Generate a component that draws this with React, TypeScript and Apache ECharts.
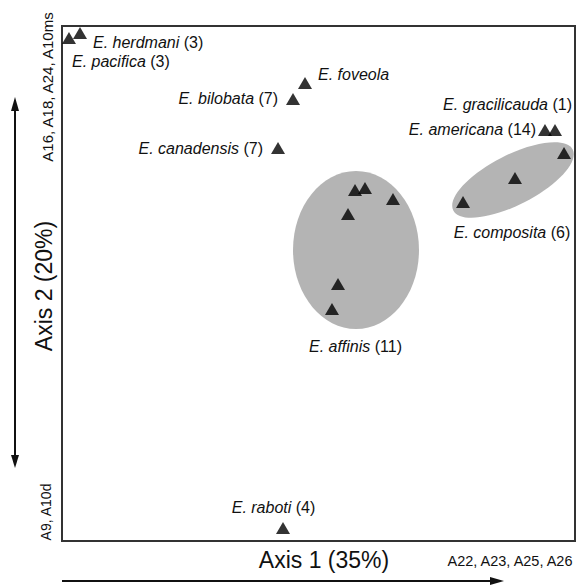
import React, { useEffect, useRef } from "react";
import * as echarts from "echarts";

// Triangle points (x: Axis 1, y: Axis 2, arbitrary 0-100 scale)
const pointNames = [
  "E. pacifica", "E. herdmani", "E. foveola", "E. bilobata", "E. canadensis",
  "E. americana", "E. gracilicauda",
  "E. composita", "E. composita", "E. composita",
  "E. affinis", "E. affinis", "E. affinis", "E. affinis", "E. affinis", "E. affinis",
  "E. raboti",
];
const pointX = [1.36, 3.51, 47.37, 45.03, 42.11, 94.15, 96.1, 78.17, 88.3, 97.86, 57.12, 59.06, 64.52, 55.75, 53.8, 52.63, 43.08];
const pointY = [97.67, 98.64, 88.93, 85.83, 76.31, 79.81, 79.81, 65.83, 70.49, 75.34, 68.16, 68.54, 66.41, 63.5, 49.9, 45.05, 2.52];

// Species labels
const labelSpecies = ["E. herdmani", "E. pacifica", "E. foveola", "E. bilobata", "E. canadensis", "E. gracilicauda", "E. americana", "E. composita", "E. affinis", "E. raboti"];
const labelCounts = ["(3)", "(3)", "", "(7)", "(7)", "(1)", "(14)", "(6)", "(11)", "(4)"];
const labelX = [6.04, 1.95, 49.9, 42.11, 39.18, 99.42, 92.4, 87.72, 57.21, 41.23];
const labelY = [96.89, 93.01, 90.49, 85.83, 76.31, 84.85, 80.0, 60.0, 37.67, 6.6];
const labelAlign = ["left", "left", "left", "right", "right", "right", "right", "center", "center", "center"];

// Group ellipses (center, semi-axes in axis units, rotation in degrees)
const ellipseGroups = ["E. affinis", "E. composita"];
const ellipseCx = [57.31, 87.91];
const ellipseCy = [56.5, 70.1];
const ellipseRx = [12.28, 13.06];
const ellipseRy = [15.34, 4.87];
const ellipseAngle = [0, 27];

// Axis annotations
const axis1Title = "Axis 1 (35%)";
const axis2Title = "Axis 2 (20%)";
const axis1Vars = "A22, A23, A25, A26";
const axis2TopVars = "A16, A18, A24, A10ms";
const axis2BottomVars = "A9, A10d";

const FONT = "'Liberation Sans', Arial, Helvetica, sans-serif";
const TXT = "#111";

export default function App() {
  const ref = useRef<HTMLDivElement>(null);
  useEffect(() => {
    if (!ref.current) return;
    const chart = echarts.init(ref.current, null, { renderer: "svg" });
    const option: any = {
      animation: false,
      backgroundColor: "#fff",
      grid: {
        left: 62, top: 26, width: 513, height: 515,
        show: true, borderColor: "#333", borderWidth: 2, backgroundColor: "transparent",
      },
      xAxis: { type: "value", min: 0, max: 100, show: false },
      yAxis: { type: "value", min: 0, max: 100, show: false },
      series: [
        {
          type: "custom",
          name: "groups",
          z: 1,
          data: ellipseGroups.map((g, i) => [ellipseCx[i], ellipseCy[i], ellipseRx[i], ellipseRy[i], ellipseAngle[i]]),
          renderItem: (params: any, api: any) => {
            const c = api.coord([api.value(0), api.value(1)]);
            const s = api.size([api.value(2), api.value(3)]);
            return {
              type: "ellipse",
              x: c[0], y: c[1],
              rotation: (api.value(4) * Math.PI) / 180,
              shape: { cx: 0, cy: 0, rx: s[0], ry: s[1] },
              style: { fill: "#b4b4b4" },
            };
          },
        },
        {
          type: "scatter",
          name: "specimens",
          z: 3,
          symbol: "triangle",
          symbolSize: [14, 12],
          itemStyle: { color: "#000" },
          data: pointX.map((x, i) => ({ name: pointNames[i], value: [x, pointY[i]] })),
        },
        {
          type: "custom",
          name: "labels",
          z: 4,
          data: labelX.map((x, i) => [x, labelY[i]]),
          renderItem: (params: any, api: any) => {
            const i = params.dataIndex;
            const c = api.coord([api.value(0), api.value(1)]);
            const cnt = labelCounts[i];
            return {
              type: "text",
              x: c[0], y: c[1],
              style: {
                text: cnt ? `{i|${labelSpecies[i]}} {n|${cnt}}` : `{i|${labelSpecies[i]}}`,
                align: labelAlign[i],
                verticalAlign: "middle",
                fill: TXT,
                fontSize: 16,
                fontFamily: FONT,
                rich: {
                  i: { fontStyle: "italic", fontSize: 16, fontFamily: FONT, fill: TXT },
                  n: { fontSize: 16, fontFamily: FONT, fill: TXT },
                },
              },
            };
          },
        },
      ],
      graphic: [
        // vertical double arrow
        { type: "line", shape: { x1: 15, y1: 104, x2: 15, y2: 462 }, style: { stroke: "#111", lineWidth: 2 } },
        { type: "polygon", shape: { points: [[15, 97], [11, 111], [19, 111]] }, style: { fill: "#111" } },
        { type: "polygon", shape: { points: [[15, 468], [11, 455], [19, 455]] }, style: { fill: "#111" } },
        // horizontal arrow
        { type: "line", shape: { x1: 62, y1: 581, x2: 494, y2: 581 }, style: { stroke: "#111", lineWidth: 2 } },
        { type: "polygon", shape: { points: [[504, 581], [490, 577], [490, 585]] }, style: { fill: "#111" } },
        // texts
        {
          type: "text", x: 324, y: 560,
          style: { text: axis1Title, font: `23px ${FONT}`, fill: TXT, align: "center", verticalAlign: "middle" },
        },
        {
          type: "text", x: 510, y: 561,
          style: { text: axis1Vars, font: `14.5px ${FONT}`, fill: TXT, align: "center", verticalAlign: "middle" },
        },
        {
          type: "text", x: 44, y: 286, rotation: Math.PI / 2,
          style: { text: axis2Title, font: `23px ${FONT}`, fill: TXT, align: "center", verticalAlign: "middle" },
        },
        {
          type: "text", x: 47, y: 87, rotation: Math.PI / 2,
          style: { text: axis2TopVars, font: `15px ${FONT}`, fill: TXT, align: "center", verticalAlign: "middle" },
        },
        {
          type: "text", x: 46, y: 512, rotation: Math.PI / 2,
          style: { text: axis2BottomVars, font: `14px ${FONT}`, fill: TXT, align: "center", verticalAlign: "middle" },
        },
      ],
    };
    chart.setOption(option);
    return () => chart.dispose();
  }, []);
  return (
    <div
      ref={ref}
      style={{ position: "absolute", left: 0, top: 0, width: 579, height: 587, background: "#fff" }}
    />
  );
}
